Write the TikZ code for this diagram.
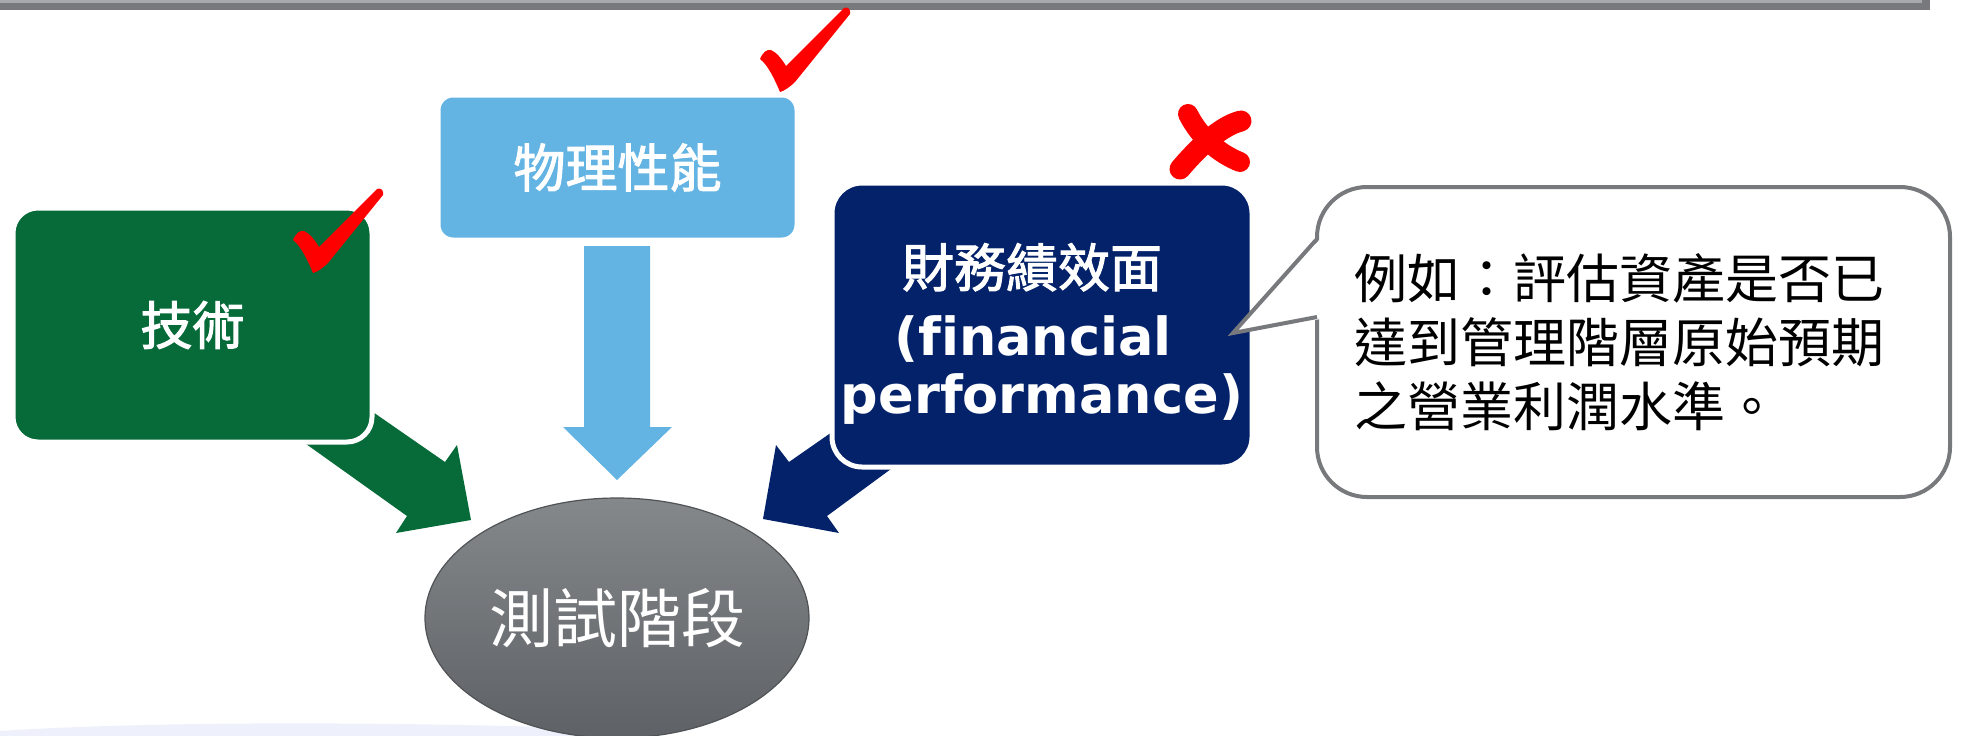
\documentclass[tikz,border=0pt]{standalone}
\usepackage{fontspec}
\newfontfamily\cjk{Noto Sans CJK TC}
\newfontfamily\cjkm{Noto Sans CJK TC}[FakeBold=2]
\newfontfamily\dvs{DejaVu Sans}[Ligatures=NoCommon]
\usetikzlibrary{shapes.geometric}
\definecolor{grn}{HTML}{066B39}
\definecolor{lblue}{HTML}{63B3E3}
\definecolor{navy}{HTML}{03226A}
\definecolor{ngray}{HTML}{77797C}
\definecolor{bartop}{HTML}{A7A9AC}
\definecolor{pale}{HTML}{EEF1FC}
\definecolor{etop}{HTML}{85888B}
\definecolor{ebot}{HTML}{5E6165}
\definecolor{eline}{HTML}{505356}
\tikzset{
  redtick/.pic={\fill[red] (-20,-33) .. controls (-17,-40) and (-13,-43) .. (-9,-42)
      .. controls (-4,-40) and (2,-33) .. (6,-26) -- (64,-84)
      .. controls (68,-86) and (71,-82) .. (70,-78) -- (15,-10)
      .. controls (10,-5) and (4,-1) .. (0,0)
      .. controls (-5,-12) and (-12,-27) .. (-20,-33) -- cycle;},
  cardbox/.style={rounded corners=#1, draw=white, line width=5pt, inner sep=0pt, text=white},
  boldcjk/.style={font={\cjkm\fontsize{52pt}{60pt}\selectfont}},
}
\begin{document}
\begin{tikzpicture}[x=1pt,y=-1pt]
\useasboundingbox (0,0) rectangle (1962,736);
% top frame bar
\fill[ngray] (0,0) rectangle (1930,10);
\fill[bartop] (0,0) rectangle (1922,2.5);
% pale shape at bottom left
\fill[pale] (0,736) -- (0,731) .. controls (150,721) and (400,721) .. (640,730) -- (640,736) -- cycle;
% tip coordinates
\coordinate (gtip) at (471,520);
\coordinate (btip) at (617,480);
\coordinate (ntip) at (763,519);
\coordinate (ptip) at (1233,333);
% block arrows
\fill[grn, shift={(gtip)}] (-127,-128) -- (-26,-58) -- (-14,-75) -- (0,0) -- (-75,13) -- (-64,-4) -- (-193,-96) -- cycle;
\fill[lblue, shift={(btip)}] (-33,-234) -- (33,-234) -- (33,-53) -- (55,-53) -- (0,0) -- (-54,-53) -- (-33,-53) -- cycle;
\fill[navy, shift={(ntip)}] (0,0) -- (13,-74) -- (26,-57) -- (105,-112) -- (147,-64) -- (64,-3) -- (76,14) -- cycle;
% boxes
\node[cardbox=25pt, fill=grn, minimum width=359pt, minimum height=234pt, boldcjk] (tech) at (192.5,325) {技術};
\node[cardbox=15pt, fill=lblue, minimum width=359pt, minimum height=145pt, boldcjk] (phys) at (617.5,167.5) {物理性能};
\node[cardbox=30pt, fill=navy, minimum width=420pt, minimum height=284pt] (fin) at (1042,325) {};
\node[anchor=base, inner sep=0pt, text=white, boldcjk] (fin1) at (1032,287) {財務績效面};
\node[anchor=base, inner sep=0pt, text=white, font={\dvs\bfseries\fontsize{52.5pt}{60pt}\selectfont}] (fin2) at (1033,355) {(financial};
\node[anchor=base, inner sep=0pt, text=white, font={\dvs\bfseries\fontsize{52.5pt}{60pt}\selectfont}] (fin3) at (1042,413) {performance)};
% ellipse
\node[ellipse, minimum width=384pt, minimum height=240pt, top color=etop, bottom color=ebot, draw=eline, line width=1.2pt, text=white, font={\cjk\fontsize{64pt}{70pt}\selectfont}] (test) at (617,618) {測試階段};
% callout
\node[rounded corners=50pt, fill=white, draw=ngray, line width=4pt, minimum width=633pt, minimum height=310pt] (note) at (1633.5,342) {};
\fill[white] (1321,238) -- (ptip) -- (1321,319) -- cycle;
\draw[ngray, line width=4pt, line join=miter] (1316,240) -- (ptip) -- (1317,317);
\node[anchor=base west, inner sep=0pt, font={\cjk\fontsize{53pt}{64pt}\selectfont}] (n1) at (1354,298) {例如：評估資產是否已};
\node[anchor=base west, inner sep=0pt, font={\cjk\fontsize{53pt}{64pt}\selectfont}] (n2) at (1354,362) {達到管理階層原始預期};
\node[anchor=base west, inner sep=0pt, font={\cjk\fontsize{53pt}{64pt}\selectfont}] (n3) at (1354,426) {之營業利潤水準。};
% marks
\pic at (313,273) {redtick};
\pic at (780,92) {redtick};
\draw[red, line width=20pt, line cap=round] (1188,114) .. controls (1200,138) and (1220,154) .. (1240,162);
\draw[red, line width=21pt, line cap=round] (1241,121) .. controls (1220,126) and (1196,150) .. (1180,169);
\end{tikzpicture}
\end{document}
